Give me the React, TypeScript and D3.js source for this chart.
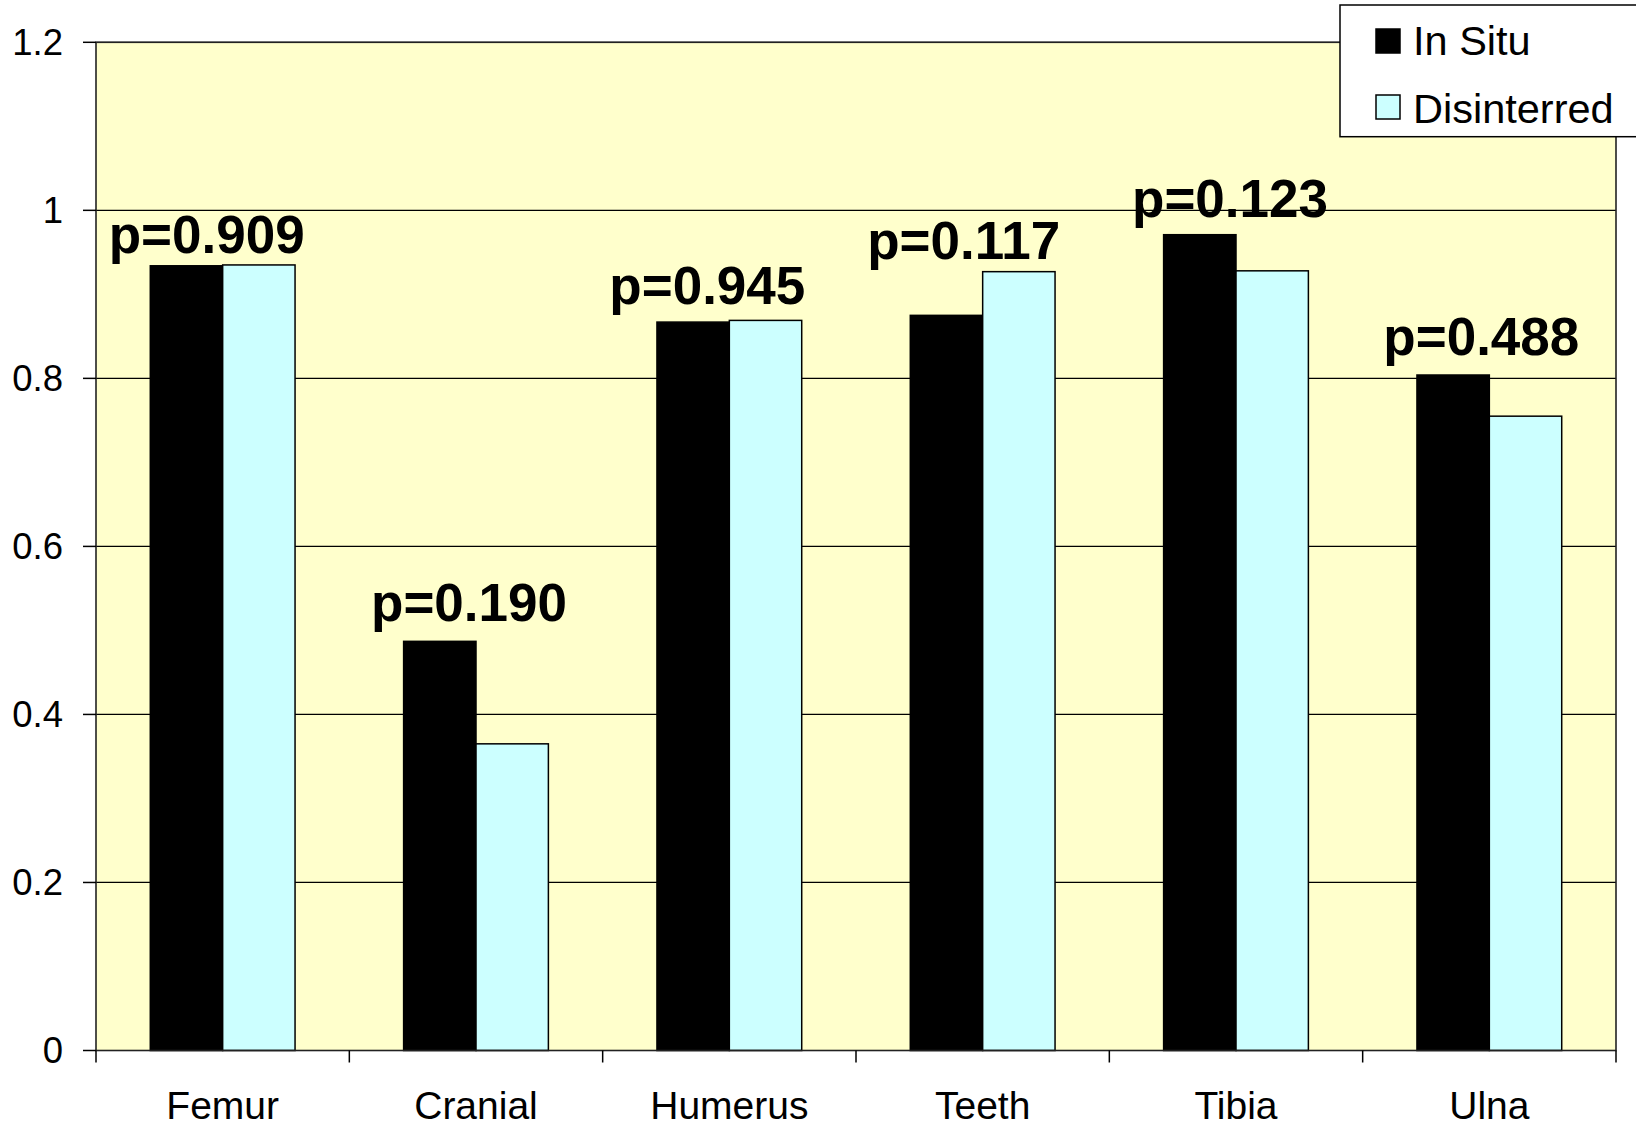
import React from "react";
import * as d3 from "d3";

const categories = ["Femur", "Cranial", "Humerus", "Teeth", "Tibia", "Ulna"];
const seriesNames = ["In Situ", "Disinterred"];
const inSitu = [0.934, 0.487, 0.867, 0.875, 0.971, 0.804];
const disinterred = [0.935, 0.365, 0.869, 0.927, 0.928, 0.755];
const pLabels = ["p=0.909", "p=0.190", "p=0.945", "p=0.117", "p=0.123", "p=0.488"];
const pLabelLevel = [0.949, 0.511, 0.889, 0.942, 0.992, 0.828];
const pLabelShift = [-16, -7, -22, -19, -6, -8];
const yTicks = [0, 0.2, 0.4, 0.6, 0.8, 1, 1.2];

const W = 1636;
const H = 1126;
const FONT = "'Liberation Sans', Arial, Helvetica, sans-serif";
const COLORS = ["#000000", "#CCFFFF"];

export default function App() {
  const left = 96, right = 1616, top = 42.3, bottom = 1050.5;
  const x = d3.scaleBand<string>().domain(categories).range([left, right]).paddingInner(0).paddingOuter(0);
  const x1 = d3.scaleBand<string>().domain(seriesNames).range([0, x.bandwidth()]).paddingInner(0).paddingOuter(0.75);
  const y = d3.scaleLinear().domain([0, 1.2]).range([bottom, top]);
  const series = [inSitu, disinterred];

  return (
    <div style={{ position: "absolute", left: 0, top: 0 }}>
      <svg width={W} height={H} style={{ display: "block", background: "#ffffff" }}>
        <rect x={left} y={top} width={right - left} height={bottom - top} fill="#FFFFCC" />
        {yTicks.filter((t) => t > 0).map((t) => (
          <line key={"g" + t} x1={left} x2={right} y1={y(t)} y2={y(t)} stroke="#000" strokeWidth={1.2} />
        ))}
        {categories.map((c, i) =>
          series.map((s, j) => (
            <rect
              key={c + j}
              x={(x(c) as number) + (x1(seriesNames[j]) as number)}
              y={y(s[i])}
              width={x1.bandwidth()}
              height={y(0) - y(s[i])}
              fill={COLORS[j]}
              stroke="#000"
              strokeWidth={1.5}
            />
          ))
        )}
        {/* plot frame */}
        <rect x={left} y={top} width={right - left} height={bottom - top} fill="none" stroke="#222" strokeWidth={1.6} />
        {/* y ticks */}
        {yTicks.map((t) => (
          <g key={"t" + t}>
            <line x1={83} x2={left} y1={y(t)} y2={y(t)} stroke="#000" strokeWidth={1.5} />
            <text x={63} y={y(t) + 12.5} textAnchor="end" fontFamily={FONT} fontSize={36.5} fill="#000">
              {String(t)}
            </text>
          </g>
        ))}
        {/* x ticks */}
        {[...categories.map((c) => x(c) as number), right].map((v, i) => (
          <line key={"xt" + i} x1={v} x2={v} y1={bottom} y2={bottom + 12} stroke="#000" strokeWidth={1.5} />
        ))}
        {categories.map((c) => (
          <text key={"xl" + c} x={(x(c) as number) + x.bandwidth() / 2} y={1119} textAnchor="middle" fontFamily={FONT} fontSize={39} fill="#000">
            {c}
          </text>
        ))}
        {/* p labels */}
        {categories.map((c, i) => (
          <text
            key={"p" + c}
            x={(x(c) as number) + x.bandwidth() / 2 + pLabelShift[i]}
            y={y(pLabelLevel[i])}
            textAnchor="middle"
            fontFamily={FONT}
            fontWeight="bold"
            fontSize={53}
            fill="#000"
          >
            {pLabels[i]}
          </text>
        ))}
        {/* legend */}
        <rect x={1340} y={5} width={320} height={131.7} fill="#ffffff" stroke="#000" strokeWidth={1.5} />
        {seriesNames.map((n, j) => (
          <g key={"lg" + n}>
            <rect x={1376} y={j === 0 ? 29 : 95} width={24} height={24} fill={COLORS[j]} stroke="#000" strokeWidth={1.5} />
            <text x={1413} y={j === 0 ? 54.5 : 123} fontFamily={FONT} fontSize={41.5} fill="#000">
              {n}
            </text>
          </g>
        ))}
      </svg>
    </div>
  );
}
